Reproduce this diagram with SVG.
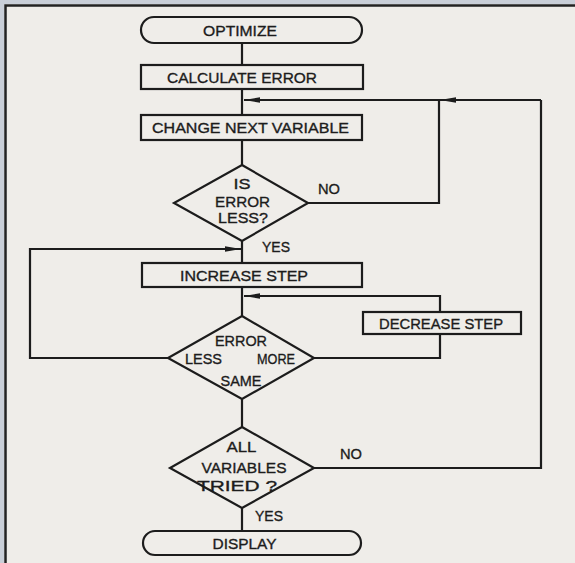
<svg xmlns="http://www.w3.org/2000/svg" width="575" height="563" viewBox="0 0 575 563">
  <defs>
    <style>
      .bg { fill: #efede9; }
      .strip { fill: #c9cfd8; }
      .frame { stroke: #222; stroke-width: 2.5; fill: none; }
      .shape { fill: none; stroke: #1c1c1c; stroke-width: 2.2; stroke-linejoin: miter; }
      .line { fill: none; stroke: #1c1c1c; stroke-width: 2.2; }
      .t { font-family: "Liberation Sans", "DejaVu Sans", Arial, sans-serif; font-size: 15.5px; fill: #1c1c1c; stroke: #1c1c1c; stroke-width: 0.35; text-anchor: middle; dominant-baseline: central; }
    </style>
    <marker id="arr" viewBox="0 0 16 6" refX="16" refY="3" markerWidth="16" markerHeight="6" markerUnits="userSpaceOnUse" orient="auto">
      <path d="M0,0.3 L16,3 L0,5.7 z" fill="#1c1c1c"/>
    </marker>
  </defs>

  <rect class="bg" x="0" y="0" width="575" height="563"/>
  <rect class="strip" x="0" y="0" width="575" height="4"/>
  <rect class="strip" x="0" y="0" width="4" height="563"/>
  <path class="frame" d="M5.5,563 V5.5 H575"/>

  <g id="connectors">
    <path class="line" d="M242,43 V65"/>
    <path class="line" d="M242,89 V115"/>
    <path class="line" d="M242,140 V165"/>
    <path class="line" d="M242,241 V263"/>
    <path class="line" d="M242,287 V316"/>
    <path class="line" d="M242,399 V427"/>
    <path class="line" d="M242,508 V531"/>
    <path class="line" d="M308,203 H439 V100"/>
    <path class="line" d="M314,468 H541 V100"/>
    <path class="line" d="M541,100 H440" marker-end="url(#arr)"/>
    <path class="line" d="M440,100 H244" marker-end="url(#arr)"/>
    <path class="line" d="M168,358 H30 V249 H241" marker-end="url(#arr)"/>
    <path class="line" d="M314,358 H440 V334"/>
    <path class="line" d="M440,312 V296 H244" marker-end="url(#arr)"/>
  </g>

  <g id="optimize">
    <rect class="shape" x="141" y="17" width="221" height="26" rx="13" ry="13"/>
    <text class="t" x="240" y="30" textLength="74" lengthAdjust="spacingAndGlyphs">OPTIMIZE</text>
  </g>
  <g id="calculate-error">
    <rect class="shape" x="141" y="65" width="222" height="24"/>
    <text class="t" x="242" y="77.5" textLength="150" lengthAdjust="spacingAndGlyphs">CALCULATE ERROR</text>
  </g>
  <g id="change-next-variable">
    <rect class="shape" x="141" y="115" width="221" height="25"/>
    <text class="t" x="250.5" y="127.5" textLength="197" lengthAdjust="spacingAndGlyphs">CHANGE NEXT VARIABLE</text>
  </g>
  <g id="is-error-less">
    <polygon class="shape" points="242,165 308,203 242,241 174,203"/>
    <text class="t" x="242" y="183" textLength="17" lengthAdjust="spacingAndGlyphs">IS</text>
    <text class="t" x="242.5" y="201" textLength="55" lengthAdjust="spacingAndGlyphs">ERROR</text>
    <text class="t" x="243" y="217" textLength="50" lengthAdjust="spacingAndGlyphs">LESS?</text>
    <text class="t" x="329" y="188" textLength="22" lengthAdjust="spacingAndGlyphs">NO</text>
    <text class="t" x="276" y="246" textLength="28" lengthAdjust="spacingAndGlyphs">YES</text>
  </g>
  <g id="increase-step">
    <rect class="shape" x="142" y="263" width="220" height="24"/>
    <text class="t" x="244" y="275" textLength="128" lengthAdjust="spacingAndGlyphs">INCREASE STEP</text>
  </g>
  <g id="error-compare">
    <polygon class="shape" points="242,316 314,358 242,399 168,358"/>
    <text class="t" x="241" y="340.5" textLength="52" lengthAdjust="spacingAndGlyphs">ERROR</text>
    <text class="t" x="203.5" y="358" textLength="37" lengthAdjust="spacingAndGlyphs">LESS</text>
    <text class="t" x="276" y="358" textLength="38" lengthAdjust="spacingAndGlyphs">MORE</text>
    <text class="t" x="241" y="380" textLength="41" lengthAdjust="spacingAndGlyphs">SAME</text>
  </g>
  <g id="decrease-step">
    <rect class="shape" x="363" y="312" width="158" height="22"/>
    <text class="t" x="441" y="323" textLength="124" lengthAdjust="spacingAndGlyphs">DECREASE STEP</text>
  </g>
  <g id="all-variables-tried">
    <polygon class="shape" points="242,427 314,468 242,508 170,468"/>
    <text class="t" x="241.5" y="446.5" textLength="30" lengthAdjust="spacingAndGlyphs">ALL</text>
    <text class="t" x="244" y="467" textLength="85" lengthAdjust="spacingAndGlyphs">VARIABLES</text>
    <text class="t" x="237" y="485" textLength="80" lengthAdjust="spacingAndGlyphs">TRIED ?</text>
    <text class="t" x="351" y="453" textLength="22" lengthAdjust="spacingAndGlyphs">NO</text>
    <text class="t" x="269" y="515" textLength="28" lengthAdjust="spacingAndGlyphs">YES</text>
  </g>
  <g id="display">
    <rect class="shape" x="143" y="531" width="218" height="24" rx="12" ry="12"/>
    <text class="t" x="244.5" y="543" textLength="64" lengthAdjust="spacingAndGlyphs">DISPLAY</text>
  </g>
</svg>
